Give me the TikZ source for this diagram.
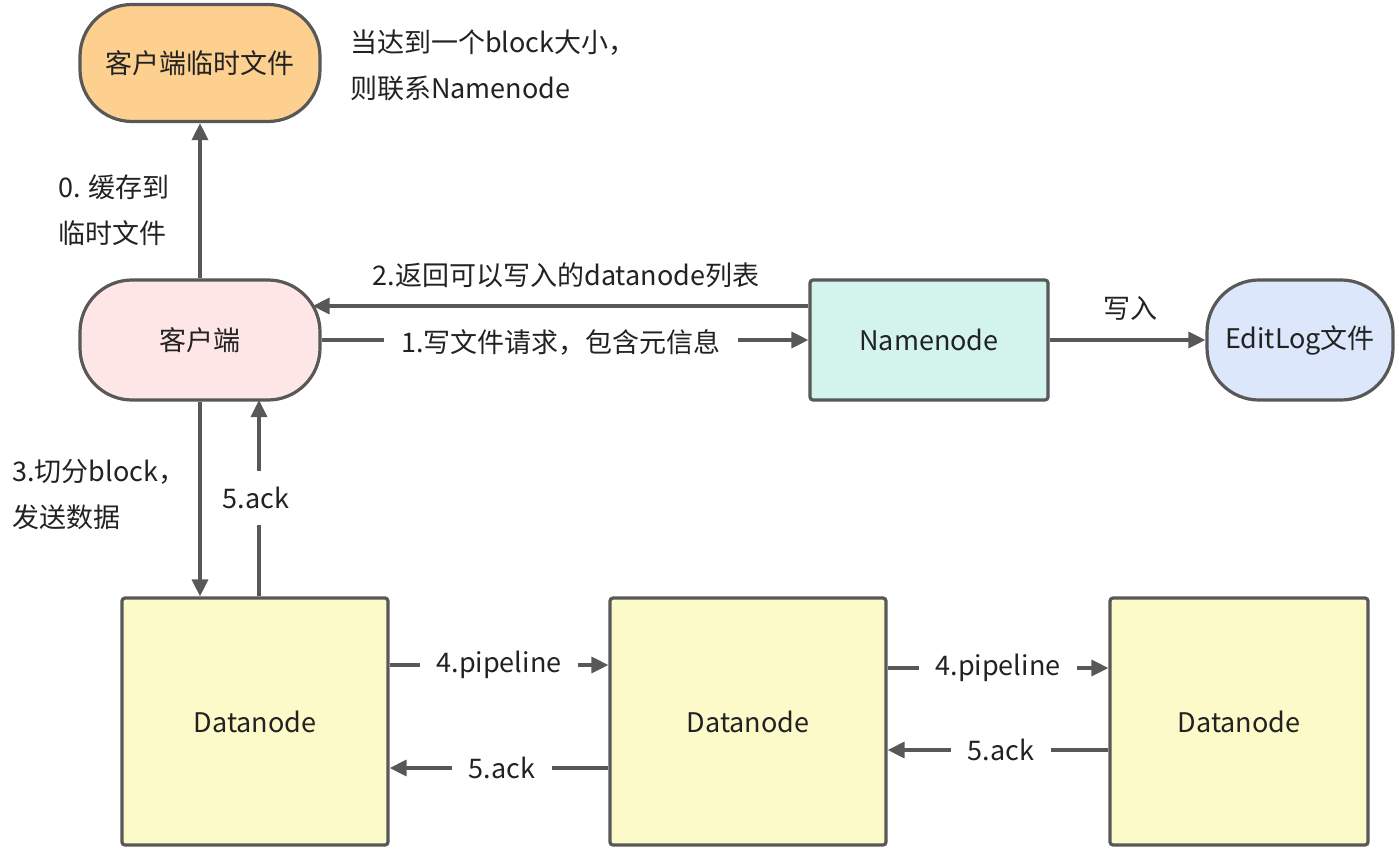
\documentclass[tikz,border=0pt]{standalone}
\usepackage{fontspec}
\setmainfont{Noto Sans CJK SC}
\usetikzlibrary{arrows.meta,calc}
\definecolor{strk}{HTML}{585858}
\definecolor{txt}{HTML}{222222}
\definecolor{corange}{HTML}{FED08F}
\definecolor{cpink}{HTML}{FFE6E6}
\definecolor{cmint}{HTML}{D2F4EC}
\definecolor{cblue}{HTML}{DDE7FB}
\definecolor{cyellow}{HTML}{FCFAC8}
\tikzset{
  box/.style={draw=strk, line width=3.2pt, text=txt, font=\fontsize{27}{32}\selectfont, inner sep=0pt},
  pill/.style={box, rounded corners=52pt},
  sq/.style={box, rounded corners=3pt},
  arr/.style={draw=strk, line width=3.2pt, -{Triangle[length=17pt,width=16pt]}},
  lbl/.style={text=txt, font=\fontsize{27}{32}\selectfont, inner sep=0pt},
  cut/.style={lbl, fill=white, inner xsep=17pt, inner ysep=10pt},
  note/.style={lbl, align=left, anchor=west, font=\fontsize{27}{46}\selectfont},
}
\begin{document}
\begin{tikzpicture}[x=1pt,y=-1pt]
\useasboundingbox[fill=white] (0,0) rectangle (1399,850);
% nodes
\node[pill, fill=corange, minimum width=240pt, minimum height=117pt] (tmp) at (200,63) {客户端临时文件};
\node[pill, fill=cpink, minimum width=240pt, minimum height=120pt] (client) at (200,340) {客户端};
\node[sq, fill=cmint, minimum width=238pt, minimum height=120pt] (nn) at (929,340) {Namenode};
\node[pill, fill=cblue, minimum width=186pt, minimum height=120pt] (edit) at (1300,340) {EditLog文件};
\node[sq, fill=cyellow, minimum width=266pt, minimum height=247pt] (d1) at (255,721.5) {Datanode};
\node[sq, fill=cyellow, minimum width=276pt, minimum height=247pt] (d2) at (748,721.5) {Datanode};
\node[sq, fill=cyellow, minimum width=258pt, minimum height=247pt] (d3) at (1239,721.5) {Datanode};
% notes
\node[note] (n1) at (350,65) {当达到一个block大小，\\则联系Namenode};
\node[note] (n0) at (58,210) {0. 缓存到\\临时文件};
\node[note] (n3) at (12,495) {3.切分block，\\发送数据};
% client -> tmp
\draw[arr] (client.north) -- (tmp.south);
% 2. namenode -> client
\draw[arr] ([yshift=34pt]nn.west) -- ([xshift=-9pt,yshift=34pt]client.east);
\node[lbl] (l2) at (566,275) {2.返回可以写入的datanode列表};
% 1. client -> namenode
\draw[arr] (client.east) -- (nn.west);
\node[cut] (l1) at (561,342) {1.写文件请求，包含元信息};
% namenode -> editlog
\draw[arr] (nn.east) -- (edit.west);
\node[lbl] (lw) at (1130,308) {写入};
% 3. client -> d1
\draw[arr] (client.south) -- (client.south |- d1.north);
% 5. ack d1 -> client
\coordinate (ackTop) at (259,400);
\draw[arr] (ackTop |- d1.north) -- (ackTop);
\node[cut, inner ysep=16pt, inner xsep=10pt] (la) at (256,498) {5.ack};
% pipeline d1 -> d2
\draw[arr] ([yshift=56.5pt]d1.east) -- ([yshift=56.5pt]d2.west);
\node[cut] (p1) at (499,665) {4.pipeline};
% ack d2 -> d1
\draw[arr] ([yshift=-46.5pt]d2.west) -- ([yshift=-46.5pt]d1.east);
\node[cut] (a1) at (502,768) {5.ack};
% pipeline d2 -> d3
\draw[arr] ([yshift=53.5pt]d2.east) -- ([yshift=53.5pt]d3.west);
\node[cut] (p2) at (998,668) {4.pipeline};
% ack d3 -> d2
\draw[arr] ([yshift=-28.5pt]d3.west) -- ([yshift=-28.5pt]d2.east);
\node[cut] (a2) at (1001,750) {5.ack};
\end{tikzpicture}
\end{document}
